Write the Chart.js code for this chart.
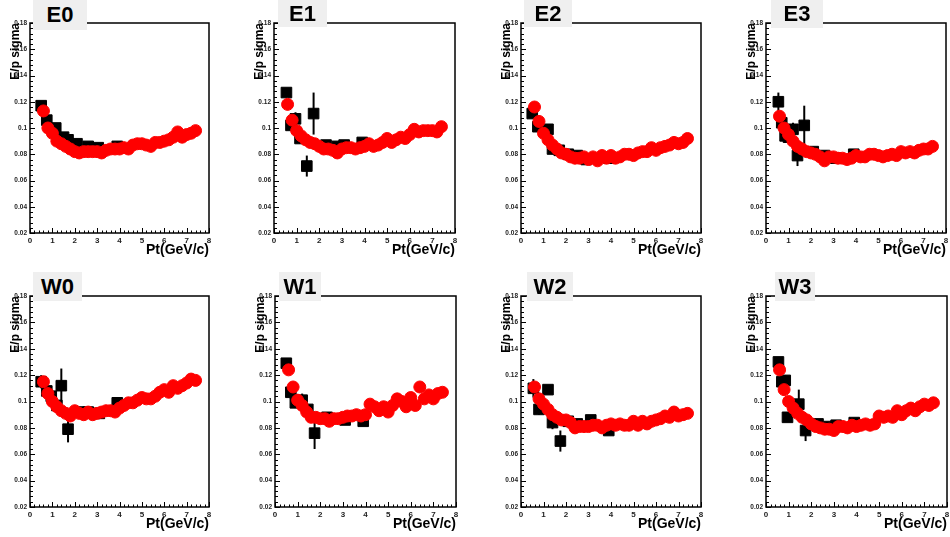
<!DOCTYPE html>
<html>
<head>
<meta charset="utf-8">
<script src="https://cdn.jsdelivr.net/npm/chart.js@4"></script>
<style>
  body { margin: 0; width: 950px; height: 537px; background: #fff; position: relative; overflow: hidden; }
  canvas { position: absolute; }
  .tag { position: absolute; background: #efefef; color: #000; font: bold 22px "Liberation Sans", Arial, sans-serif;
         display: flex; align-items: center; justify-content: center; z-index: 2; }
</style>
</head>
<body>
<script>
// Panel names and the common x grid of the red series
const panelNames = ['E0', 'E1', 'E2', 'E3', 'W0', 'W1', 'W2', 'W3'];
const xTicks = [0, 1, 2, 3, 4, 5, 6, 7, 8];
const yTicks = [0.02, 0.04, 0.06, 0.08, 0.1, 0.12, 0.14, 0.16, 0.18];

const redPt = [0.6, 0.8, 1.0, 1.2, 1.4, 1.6, 1.8, 2.0, 2.2, 2.4, 2.6, 2.8, 3.0, 3.2, 3.4, 3.6, 3.8, 4.0,
  4.2, 4.4, 4.6, 4.8, 5.0, 5.2, 5.4, 5.6, 5.8, 6.0, 6.2, 6.4, 6.6, 6.8, 7.0, 7.2, 7.4];

// Red circles, one array per panel
const redE0 = [0.113, 0.100, 0.096, 0.090, 0.088, 0.086, 0.084, 0.082, 0.081, 0.082, 0.082, 0.082, 0.082, 0.081,
  0.083, 0.084, 0.084, 0.084, 0.085, 0.084, 0.087, 0.088, 0.088, 0.087, 0.086, 0.089, 0.089, 0.090, 0.091, 0.093,
  0.097, 0.093, 0.095, 0.096, 0.098];
const redE1 = [0.118, 0.106, 0.098, 0.094, 0.091, 0.089, 0.088, 0.086, 0.084, 0.084, 0.083, 0.081, 0.084, 0.085,
  0.085, 0.084, 0.085, 0.086, 0.088, 0.086, 0.087, 0.089, 0.092, 0.089, 0.091, 0.093, 0.092, 0.095, 0.099, 0.097,
  0.098, 0.098, 0.098, 0.097, 0.101];
const redE2 = [0.116, 0.105, 0.096, 0.091, 0.087, 0.084, 0.081, 0.080, 0.078, 0.077, 0.077, 0.078, 0.076, 0.078,
  0.075, 0.079, 0.077, 0.079, 0.077, 0.078, 0.080, 0.080, 0.079, 0.081, 0.082, 0.082, 0.085, 0.083, 0.085, 0.086,
  0.087, 0.089, 0.088, 0.089, 0.092];
const redE3 = [0.109, 0.100, 0.095, 0.090, 0.086, 0.084, 0.082, 0.081, 0.080, 0.078, 0.075, 0.078, 0.078, 0.077,
  0.077, 0.076, 0.077, 0.079, 0.078, 0.078, 0.080, 0.080, 0.079, 0.078, 0.079, 0.080, 0.079, 0.082, 0.081, 0.082,
  0.081, 0.083, 0.084, 0.084, 0.086];
const redW0 = [0.115, 0.106, 0.100, 0.096, 0.093, 0.091, 0.089, 0.093, 0.091, 0.090, 0.092, 0.090, 0.091, 0.092,
  0.093, 0.093, 0.092, 0.095, 0.097, 0.099, 0.099, 0.101, 0.103, 0.102, 0.102, 0.104, 0.107, 0.109, 0.107, 0.112,
  0.110, 0.112, 0.114, 0.117, 0.116];
const redW1 = [0.124, 0.111, 0.101, 0.097, 0.092, 0.088, 0.088, 0.087, 0.087, 0.085, 0.087, 0.087, 0.088, 0.089,
  0.089, 0.090, 0.089, 0.090, 0.098, 0.096, 0.093, 0.096, 0.092, 0.097, 0.102, 0.100, 0.096, 0.103, 0.097, 0.111,
  0.102, 0.105, 0.102, 0.106, 0.107];
const redW2 = [0.111, 0.102, 0.098, 0.094, 0.090, 0.088, 0.086, 0.086, 0.084, 0.080, 0.081, 0.081, 0.081, 0.082,
  0.082, 0.080, 0.082, 0.083, 0.082, 0.083, 0.082, 0.082, 0.085, 0.082, 0.085, 0.083, 0.085, 0.086, 0.087, 0.089,
  0.088, 0.092, 0.089, 0.090, 0.091];
const redW3 = [0.124, 0.109, 0.100, 0.095, 0.091, 0.088, 0.086, 0.083, 0.081, 0.080, 0.079, 0.079, 0.078, 0.081,
  0.081, 0.080, 0.082, 0.081, 0.082, 0.083, 0.082, 0.083, 0.089, 0.088, 0.089, 0.088, 0.093, 0.090, 0.093, 0.095,
  0.093, 0.096, 0.098, 0.097, 0.099];

// Black squares with errors, one set per panel
const blackPtE0 = [0.5, 0.75, 1.15, 1.5, 1.7, 2.1, 2.6, 3.05, 3.9];
const blackE0 = [0.117, 0.106, 0.100, 0.093, 0.091, 0.088, 0.086, 0.085, 0.086];
const errE0 = [0.003, 0.003, 0.002, 0.002, 0.002, 0.002, 0.002, 0.002, 0.002];

const blackPtE1 = [0.55, 0.75, 0.95, 1.15, 1.45, 1.75, 2.3, 2.8, 3.1, 3.9];
const blackE1 = [0.127, 0.102, 0.107, 0.092, 0.071, 0.111, 0.087, 0.086, 0.087, 0.089];
const errE1 = [0.003, 0.004, 0.005, 0.004, 0.008, 0.016, 0.002, 0.002, 0.002, 0.002];

const blackPtE2 = [0.5, 0.75, 1.2, 1.4, 1.7, 2.1, 2.5, 2.9, 3.9];
const blackE2 = [0.111, 0.101, 0.099, 0.084, 0.083, 0.080, 0.079, 0.076, 0.077];
const errE2 = [0.003, 0.003, 0.003, 0.004, 0.005, 0.002, 0.002, 0.002, 0.002];

const blackPtE3 = [0.55, 0.7, 0.85, 1.0, 1.2, 1.4, 1.7, 2.1, 2.6, 3.1, 3.9];
const blackE3 = [0.120, 0.104, 0.094, 0.093, 0.099, 0.079, 0.102, 0.082, 0.079, 0.077, 0.080];
const errE3 = [0.007, 0.004, 0.004, 0.003, 0.005, 0.008, 0.015, 0.002, 0.002, 0.002, 0.002];

const blackPtW0 = [0.5, 0.75, 0.95, 1.2, 1.4, 1.7, 2.2, 2.6, 3.1, 3.9];
const blackW0 = [0.115, 0.108, 0.104, 0.097, 0.112, 0.079, 0.092, 0.092, 0.091, 0.099];
const errW0 = [0.005, 0.003, 0.003, 0.003, 0.013, 0.010, 0.002, 0.002, 0.002, 0.002];

const blackPtW1 = [0.5, 0.7, 0.9, 1.2, 1.45, 1.75, 2.3, 3.1, 3.9];
const blackW1 = [0.129, 0.107, 0.099, 0.101, 0.094, 0.076, 0.088, 0.086, 0.085];
const errW1 = [0.003, 0.005, 0.004, 0.005, 0.004, 0.012, 0.002, 0.002, 0.002];

const blackPtW2 = [0.55, 0.8, 1.2, 1.4, 1.75, 2.1, 2.5, 3.1, 3.9];
const blackW2 = [0.110, 0.094, 0.109, 0.084, 0.070, 0.085, 0.083, 0.086, 0.078];
const errW2 = [0.007, 0.004, 0.003, 0.005, 0.008, 0.002, 0.002, 0.002, 0.002];

const blackPtW3 = [0.55, 0.7, 0.85, 0.95, 1.45, 1.75, 2.3, 2.8, 3.1, 3.9];
const blackW3 = [0.130, 0.115, 0.116, 0.088, 0.098, 0.078, 0.083, 0.081, 0.082, 0.084];
const errW3 = [0.003, 0.004, 0.004, 0.003, 0.011, 0.008, 0.002, 0.002, 0.002, 0.002];

const redSeries = [redE0, redE1, redE2, redE3, redW0, redW1, redW2, redW3];
const blackSeries = [
  [blackPtE0, blackE0, errE0], [blackPtE1, blackE1, errE1], [blackPtE2, blackE2, errE2], [blackPtE3, blackE3, errE3],
  [blackPtW0, blackW0, errW0], [blackPtW1, blackW1, errW1], [blackPtW2, blackW2, errW2], [blackPtW3, blackW3, errW3]
];

// Page layout: plot frames (px) and label boxes
const frames = [
  { l: 30, t: 23, r: 209, b: 233 }, { l: 274, t: 23, r: 455, b: 233 },
  { l: 521, t: 23, r: 701, b: 233 }, { l: 766, t: 23, r: 946, b: 233 },
  { l: 30, t: 296, r: 209, b: 507 }, { l: 275, t: 296, r: 456, b: 507 },
  { l: 521, t: 296, r: 701, b: 507 }, { l: 766, t: 296, r: 947, b: 507 }
];
const tags = [
  [33, 0, 54, 30], [278, 0, 49, 27], [524, 0, 48, 27], [771, 0, 52, 28],
  [33, 272, 49, 29], [279, 272, 42, 29], [527, 272, 46, 29], [775, 272, 40, 29]
];

const AXIS_W = 30, AXIS_H = 26, PAD_T = 23, PAD_R = 8;
const FONT = '"Liberation Sans", Arial, sans-serif';

// ROOT-like frame with inward ticks, plus vertical error bars
const rootFrame = {
  id: 'rootFrame',
  beforeDatasetsDraw(chart) {
    const ctx = chart.ctx;
    ctx.save();
    ctx.strokeStyle = '#000';
    ctx.lineWidth = 2;
    chart.data.datasets.forEach((ds, di) => {
      if (!ds.yErr) return;
      const y = chart.scales.y;
      chart.getDatasetMeta(di).data.forEach((el, j) => {
        const v = ds.data[j].y, e = ds.yErr[j];
        ctx.beginPath();
        ctx.moveTo(el.x, y.getPixelForValue(v - e));
        ctx.lineTo(el.x, y.getPixelForValue(v + e));
        ctx.stroke();
      });
    });
    ctx.restore();
  },
  afterDatasetsDraw(chart) {
    const { ctx, chartArea: a, scales: { x, y } } = chart;
    ctx.save();
    ctx.strokeStyle = '#000';
    ctx.lineWidth = 1.5;
    ctx.strokeRect(a.left, a.top, a.right - a.left, a.bottom - a.top);
    ctx.lineWidth = 1;
    ctx.beginPath();
    for (let i = 0; i <= 40; i++) {
      const px = Math.round(x.getPixelForValue(i / 5)) + 0.5;
      const len = i % 5 === 0 ? 5 : 2.5;
      ctx.moveTo(px, a.bottom);
      ctx.lineTo(px, a.bottom - len);
      const py = Math.round(y.getPixelForValue(0.02 + i * 0.004)) + 0.5;
      const ylen = i % 5 === 0 ? 5 : 3;
      ctx.moveTo(a.left, py);
      ctx.lineTo(a.left + ylen, py);
    }
    ctx.stroke();
    ctx.restore();
  }
};

panelNames.forEach((name, i) => {
  const f = frames[i];
  const cv = document.createElement('canvas');
  cv.width = f.r - f.l + AXIS_W + PAD_R;
  cv.height = f.b - f.t + PAD_T + AXIS_H;
  cv.style.left = (f.l - AXIS_W) + 'px';
  cv.style.top = (f.t - PAD_T) + 'px';
  document.body.appendChild(cv);

  const [bx, by, be] = blackSeries[i];

  new Chart(cv, {
    type: 'scatter',
    data: {
      datasets: [{
        label: 'red',
        data: redPt.map((x, j) => ({ x: x, y: redSeries[i][j] })),
        backgroundColor: '#ff0000',
        borderColor: '#ff0000',
        pointRadius: 6,
        pointHoverRadius: 6
      }, {
        label: 'black',
        data: bx.map((x, j) => ({ x: x, y: by[j] })),
        yErr: be,
        backgroundColor: '#000',
        borderColor: '#000',
        pointStyle: 'rect',
        pointRadius: 7.5,
        pointHoverRadius: 7.5
      }]
    },
    options: {
      responsive: false,
      animation: false,
      events: [],
      layout: { autoPadding: false, padding: { top: PAD_T, right: PAD_R, left: 0, bottom: 0 } },
      scales: {
        x: {
          type: 'linear',
          min: 0,
          max: 8,
          afterFit: s => { s.height = AXIS_H; },
          afterBuildTicks: s => { s.ticks = xTicks.map(v => ({ value: v })); },
          grid: { display: false, drawTicks: false },
          border: { display: false },
          ticks: {
            padding: 3,
            color: '#222',
            font: { family: FONT, size: 8, weight: 'bold' },
            maxRotation: 0
          },
          title: {
            display: true,
            text: 'Pt(GeV/c)',
            align: 'end',
            color: '#000',
            padding: 0,
            font: { family: FONT, size: 14, weight: 'bold' }
          }
        },
        y: {
          type: 'linear',
          min: 0.02,
          max: 0.18,
          afterFit: s => { s.width = AXIS_W; },
          afterBuildTicks: s => { s.ticks = yTicks.map(v => ({ value: v })); },
          grid: { display: false, drawTicks: false },
          border: { display: false },
          ticks: {
            padding: 3,
            color: '#222',
            font: { family: FONT, size: 6.5, weight: 'bold' },
            callback: v => String(parseFloat(v.toFixed(2)))
          },
          title: {
            display: true,
            text: 'E/p sigma',
            align: 'end',
            color: '#000',
            padding: { top: 8, bottom: 0 },
            font: { family: FONT, size: 12, weight: 'bold' }
          }
        }
      },
      plugins: {
        legend: { display: false },
        tooltip: { enabled: false }
      }
    },
    plugins: [rootFrame]
  });

  const t = tags[i];
  const tag = document.createElement('div');
  tag.className = 'tag';
  tag.textContent = name;
  tag.style.left = t[0] + 'px';
  tag.style.top = t[1] + 'px';
  tag.style.width = t[2] + 'px';
  tag.style.height = t[3] + 'px';
  document.body.appendChild(tag);
});
</script>
</body>
</html>
